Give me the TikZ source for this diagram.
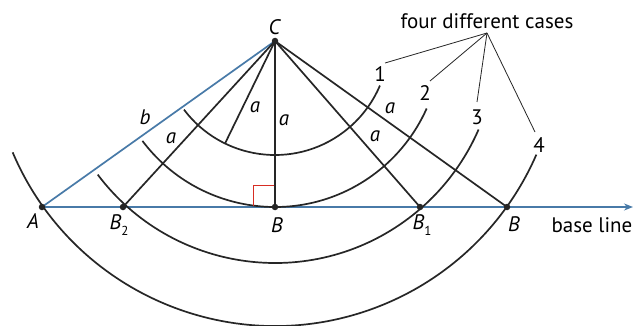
\documentclass[tikz,border=0pt]{standalone}
\usepackage{fontspec}
\setmainfont{PT Sans}
\usetikzlibrary{arrows.meta,calc}
\definecolor{bl}{RGB}{72,122,168}
\definecolor{rr}{RGB}{215,45,35}
\begin{document}
\begin{tikzpicture}[x=1pt,y=-1pt,
  font=\fontsize{21}{24}\selectfont,
  thick line/.style={line width=1.7pt, black!85},
  blue line/.style={line width=1.7pt, bl},
  leader/.style={line width=0.8pt, black!85},
  dotp/.style={circle, fill=black!85, inner sep=0pt, minimum size=6.5pt},
  lab/.style={inner sep=0pt}]
\useasboundingbox (0,0) rectangle (634,326);
\fill[white] (0,0) rectangle (634,326);
% points
\coordinate (C) at (275,41);
\coordinate (A) at (42,207);
\coordinate (B2) at (123,207);
\coordinate (B) at (275,207);
\coordinate (B1) at (420,207);
\coordinate (Bb) at (507,207);
\coordinate (E) at (633,207);
\coordinate (P1) at ($(C)+(116:114)$);
% base line and b
\draw[blue line, -{Stealth[length=9pt,width=7pt]}] (A) -- (E);
\draw[blue line] (A) -- (C);
% radii
\draw[thick line] (C) -- (B2);
\draw[thick line] (C) -- (B);
\draw[thick line] (C) -- (B1);
\draw[thick line] (C) -- (Bb);
\draw[thick line] (C) -- (P1);
% arcs
\draw[thick line] (C) ++(143:114) arc[start angle=143, end angle=23, radius=114];
\draw[thick line] (C) ++(143:166) arc[start angle=143, end angle=24, radius=166];
\draw[thick line] (C) ++(143:222) arc[start angle=143, end angle=23.5, radius=222];
\draw[thick line] (C) ++(157:285) arc[start angle=157, end angle=23.5, radius=285];
% right angle
\draw[rr, line width=1pt] (274,185) -- (253,185) -- (253,206);
% dots
\node[dotp] (dC) at (C) {};
\node[dotp] (dA) at (A) {};
\node[dotp] (dB2) at (B2) {};
\node[dotp] (dB) at (B) {};
\node[dotp] (dB1) at (B1) {};
\node[dotp] (dBb) at (Bb) {};
% labels
\node[lab] (tC) at (275,27) {\textit{C}};
\node[lab] (tA) at (33,221) {\textit{A}};
\node[lab] (tB2) at (119,225) {\textit{B}\raisebox{-0.55ex}{\fontsize{13}{13}\selectfont 2}};
\node[lab] (tB) at (277,225) {\textit{B}};
\node[lab] (tB1) at (422,225) {\textit{B}\raisebox{-0.55ex}{\fontsize{13}{13}\selectfont 1}};
\node[lab] (tBb) at (514,224) {\textit{B}};
\node[lab] (tbase) at (592,225) {base line};
\node[lab] (tb) at (145,117) {\textit{b}};
\node[lab] (ta1) at (255,107) {\textit{a}};
\node[lab] (ta2) at (284,120) {\textit{a}};
\node[lab] (ta3) at (171,138) {\textit{a}};
\node[lab] (ta4) at (390,108) {\textit{a}};
\node[lab] (ta5) at (375,136) {\textit{a}};
\node[lab] (n1) at (380,74) {1};
\node[lab] (n2) at (425,93) {2};
\node[lab] (n3) at (477,117) {3};
\node[lab] (n4) at (539,145) {4};
\node[lab] (cases) at (487,21) {four different cases};
% leaders
\coordinate (F) at (487,33);
\coordinate (L1) at (385,63);
\coordinate (L2) at (430,81);
\coordinate (L3) at (477,102);
\coordinate (L4) at (535,132);
\draw[leader] (F) -- (L1);
\draw[leader] (F) -- (L2);
\draw[leader] (F) -- (L3);
\draw[leader] (F) -- (L4);
\end{tikzpicture}
\end{document}
